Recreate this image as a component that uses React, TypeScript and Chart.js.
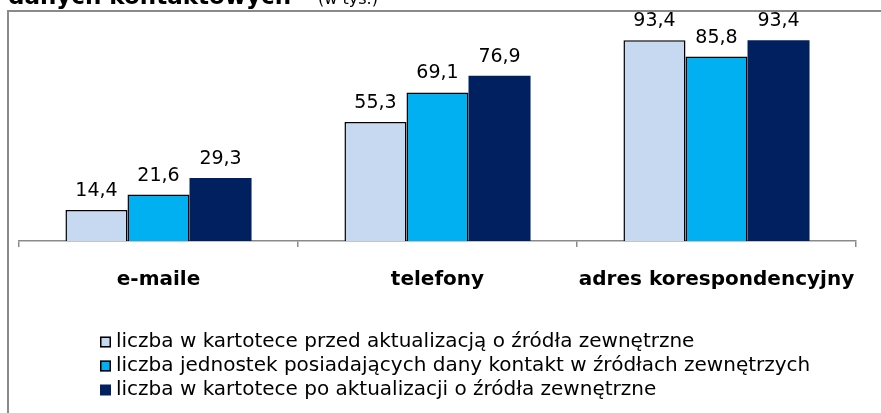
import React, { useEffect, useRef } from "react";
import { Chart, registerables } from "chart.js";

Chart.register(...registerables);

const categories = ["e-maile", "telefony", "adres korespondencyjny"];
const seriesLabels = [
  "liczba w kartotece przed aktualizacją o źródła zewnętrzne",
  "liczba jednostek posiadających dany kontakt w źródłach zewnętrzych",
  "liczba w kartotece po aktualizacji o źródła zewnętrzne",
];
const beforeUpdate = [14.4, 55.3, 93.4];
const unitsWithContact = [21.6, 69.1, 85.8];
const afterUpdate = [29.3, 76.9, 93.4];
const titleBold = "danych kontaktowych";
const titleRest = "(w tys.)";

const FONT = "'DejaVu Sans', Verdana, sans-serif";
const fills = ["#C6D9F1", "#00B0F0", "#002060"];
const borders = ["#000000", "#000000", "#002060"];

const fmt = (v: number) => v.toFixed(1).replace(".", ",");

const framePlugin = {
  id: "frameTitle",
  beforeDraw(chart: any) {
    const ctx = chart.ctx;
    ctx.save();
    ctx.strokeStyle = "#8a8a8a";
    ctx.lineWidth = 2;
    ctx.beginPath();
    ctx.moveTo(8, 413);
    ctx.lineTo(8, 11);
    ctx.lineTo(881, 11);
    ctx.stroke();
    ctx.fillStyle = "#000";
    ctx.textBaseline = "alphabetic";
    ctx.textAlign = "left";
    ctx.font = `bold 23px ${FONT}`;
    ctx.fillText(titleBold, 8, 3.5);
    const w = ctx.measureText(titleBold).width;
    ctx.font = `16px ${FONT}`;
    ctx.fillText(titleRest, 8 + w + 27, 3.5);
    ctx.restore();
  },
};

const labelPlugin = {
  id: "valueLabels",
  afterDatasetsDraw(chart: any) {
    const ctx = chart.ctx;
    ctx.save();
    ctx.fillStyle = "#000";
    ctx.font = `19px ${FONT}`;
    ctx.textAlign = "center";
    ctx.textBaseline = "alphabetic";
    chart.data.datasets.forEach((ds: any, i: number) => {
      const meta = chart.getDatasetMeta(i);
      meta.data.forEach((bar: any, j: number) => {
        ctx.fillText(fmt(ds.data[j]), bar.x, bar.y - 14);
      });
    });
    ctx.restore();
  },
};

const legendPlugin = {
  id: "customLegend",
  afterDraw(chart: any) {
    const ctx = chart.ctx;
    ctx.save();
    ctx.font = `20px ${FONT}`;
    ctx.textBaseline = "middle";
    ctx.textAlign = "left";
    chart.data.datasets.forEach((ds: any, i: number) => {
      const cy = 342 + i * 24;
      ctx.fillStyle = ds.backgroundColor;
      ctx.fillRect(100, cy - 5.5, 11, 11);
      if (ds.borderColor !== ds.backgroundColor) {
        ctx.strokeStyle = ds.borderColor;
        ctx.lineWidth = 1.5;
        ctx.strokeRect(100.75, cy - 4.75, 9.5, 9.5);
      }
      ctx.fillStyle = "#000";
      ctx.fillText(ds.label, 116, cy);
    });
    ctx.restore();
  },
};

export default function App() {
  const ref = useRef<HTMLCanvasElement | null>(null);
  useEffect(() => {
    if (!ref.current) return;
    const series = [beforeUpdate, unitsWithContact, afterUpdate];
    const chart = new Chart(ref.current, {
      type: "bar",
      data: {
        labels: categories,
        datasets: series.map((d, i) => ({
          label: seriesLabels[i],
          data: d,
          backgroundColor: fills[i],
          borderColor: borders[i],
          borderWidth: i < 2 ? 1.5 : 0,
          categoryPercentage: 0.667,
          barPercentage: 1,
        })),
      },
      options: {
        responsive: false,
        animation: false,
        layout: { padding: { left: 19, right: 25, top: 26, bottom: 0 } },
        plugins: {
          legend: { display: false },
          tooltip: { enabled: false },
          title: { display: false },
        },
        scales: {
          x: {
            afterFit: (s: any) => {
              s.height = 172;
            },
            grid: {
              offset: true,
              drawOnChartArea: false,
              drawTicks: true,
              tickLength: 6,
              color: "#8a8a8a",
              lineWidth: 1.5,
            },
            border: { display: true, color: "#8a8a8a", width: 1.5 },
            ticks: {
              color: "#000",
              font: { family: FONT, size: 20, weight: "bold" },
              padding: 21,
              maxRotation: 0,
              autoSkip: false,
            },
          },
          y: {
            display: false,
            min: 0,
            max: 100,
          },
        },
      },
      plugins: [framePlugin, labelPlugin, legendPlugin],
    });
    return () => chart.destroy();
  }, []);
  return (
    <div style={{ position: "absolute", left: 0, top: 0, width: 881, height: 413, background: "#fff" }}>
      <canvas ref={ref} width={881} height={413} />
    </div>
  );
}
